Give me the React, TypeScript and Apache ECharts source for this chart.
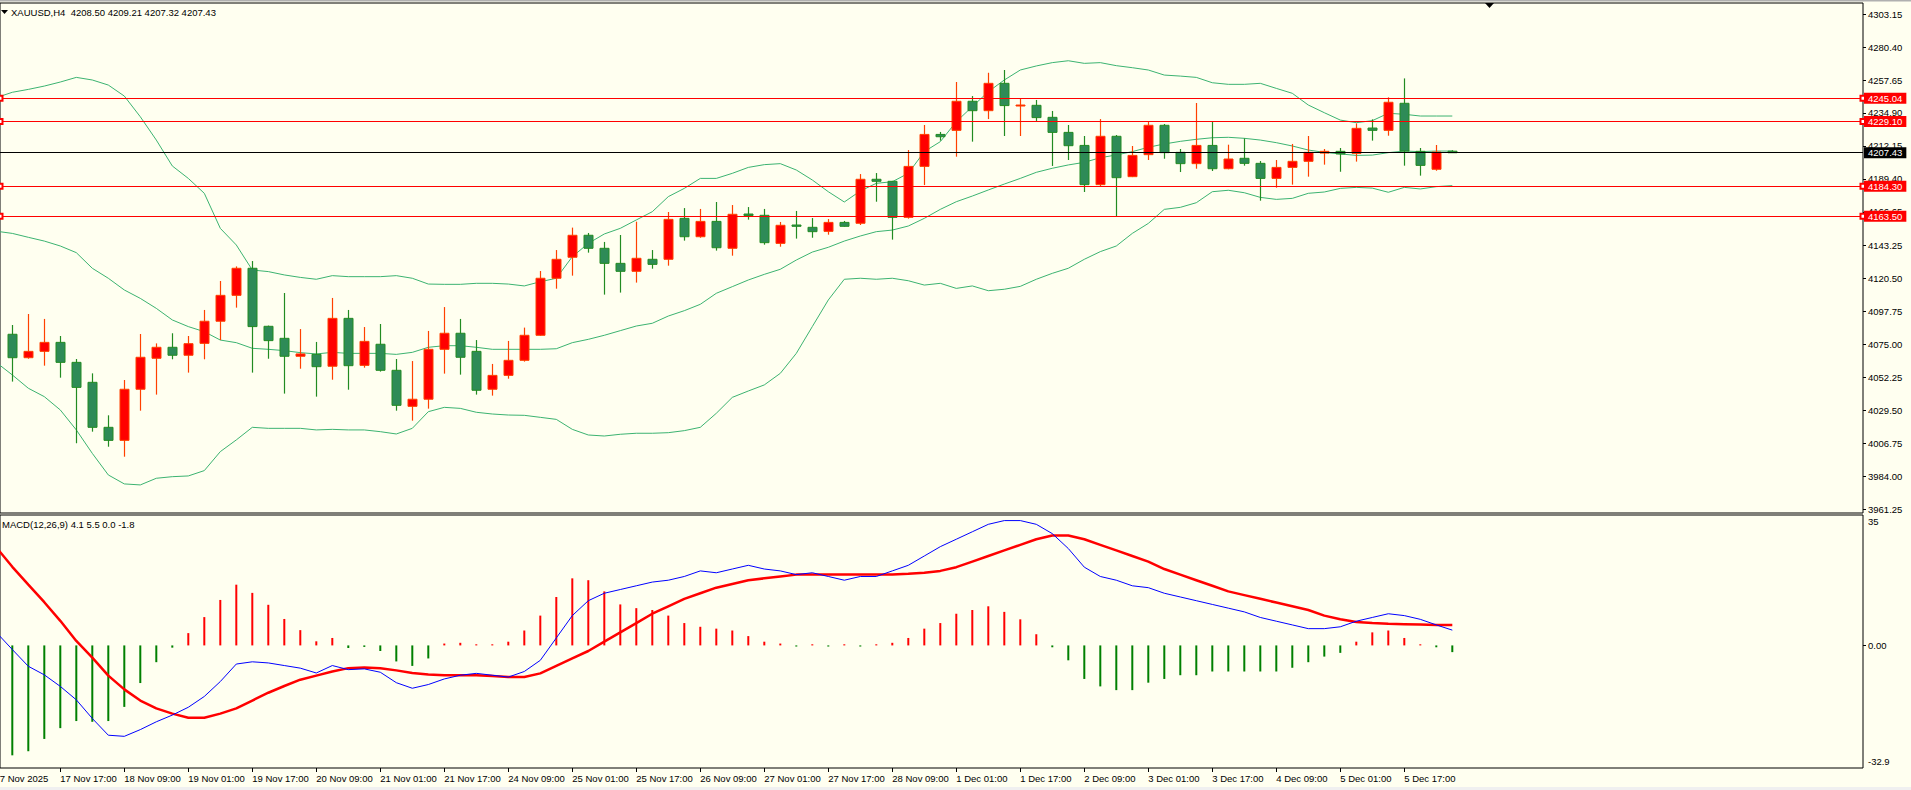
import React, { useEffect, useRef } from "react";
import * as echarts from "echarts";

// ---------- bar times (H4) ----------
const DAYS = ["17 Nov", "18 Nov", "19 Nov", "20 Nov", "21 Nov", "24 Nov", "25 Nov", "26 Nov", "27 Nov", "28 Nov", "1 Dec", "2 Dec", "3 Dec", "4 Dec", "5 Dec", "8 Dec"];
const HOURS = ["01:00", "05:00", "09:00", "13:00", "17:00", "21:00"];
const FIRST_LABEL = "17 Nov 2025";
// bar index -1 = 17 Nov 01:00 (just off the left edge), bar 0 = 17 Nov 05:00 ... bar 90 = 8 Dec 05:00
const timeLabelBars = [3, 7, 11, 15, 19, 23, 27, 31, 35, 39, 43, 47, 51, 55, 59, 63, 67, 71, 75, 79, 83, 87];

// ---------- candles (bar 0 ... bar 90) ----------
const opens = [
  4082.0, 4065.8, 4070.2, 4076.4, 4062.6, 4048.8, 4017.7, 4008.7, 4044.0, 4065.4,
  4073.0, 4067.5, 4075.7, 4091.0, 4108.9, 4127.6, 4087.5, 4079.2, 4066.8, 4068.1,
  4059.9, 4093.0, 4060.5, 4075.1, 4057.1, 4032.2, 4037.1, 4071.6, 4082.7, 4070.2,
  4044.0, 4053.6, 4064.0, 4081.3, 4120.7, 4135.2, 4150.4, 4141.4, 4131.0, 4125.5,
  4133.8, 4133.8, 4162.1, 4149.4, 4160.0, 4141.4, 4165.1, 4164.2, 4144.8, 4157.5,
  4155.9, 4153.1, 4159.3, 4158.7, 4189.1, 4187.7, 4162.8, 4198.0, 4220.1, 4222.9,
  4243.0, 4236.5, 4255.4, 4240.0, 4240.2, 4231.9, 4221.5, 4212.5, 4185.4, 4218.8,
  4190.9, 4206.1, 4226.4, 4207.7, 4199.9, 4212.5, 4196.4, 4203.6, 4200.1, 4189.7,
  4197.3, 4201.5, 4207.2, 4208.4, 4207.0, 4224.5, 4222.9, 4241.6, 4208.4, 4196.0,
  4208.5,
];
const highs = [
  4088.4, 4096.0, 4092.6, 4080.8, 4064.9, 4055.0, 4026.0, 4050.4, 4082.2, 4075.7,
  4082.7, 4080.8, 4098.8, 4118.8, 4128.9, 4132.6, 4088.0, 4110.5, 4085.6, 4076.7,
  4107.1, 4098.8, 4087.0, 4089.1, 4064.9, 4063.5, 4084.3, 4100.8, 4092.6, 4078.0,
  4061.5, 4077.4, 4086.6, 4125.7, 4140.2, 4155.7, 4152.0, 4145.8, 4150.6, 4159.8,
  4140.2, 4166.5, 4169.2, 4168.6, 4173.4, 4171.3, 4169.9, 4168.6, 4159.6, 4167.2,
  4162.3, 4161.6, 4160.3, 4192.7, 4193.4, 4188.0, 4209.3, 4226.6, 4221.8, 4256.3,
  4246.6, 4262.7, 4264.6, 4244.6, 4243.9, 4236.3, 4226.6, 4219.0, 4230.7, 4219.7,
  4212.1, 4228.9, 4227.3, 4210.0, 4241.8, 4228.9, 4213.0, 4217.4, 4201.7, 4202.4,
  4213.5, 4219.0, 4210.0, 4210.7, 4227.7, 4230.5, 4245.7, 4258.8, 4210.7, 4212.8,
  4209.21,
];
const lows = [
  4049.3, 4065.1, 4060.3, 4052.0, 4006.7, 4014.7, 4004.3, 3997.4, 4029.2, 4040.3,
  4064.7, 4055.5, 4064.7, 4078.0, 4100.4, 4055.5, 4065.1, 4041.0, 4058.2, 4038.9,
  4050.6, 4043.7, 4058.9, 4056.2, 4029.2, 4022.3, 4030.6, 4054.8, 4054.1, 4040.3,
  4039.6, 4051.3, 4063.1, 4081.0, 4113.5, 4122.5, 4138.4, 4109.4, 4110.8, 4117.7,
  4127.3, 4129.4, 4146.7, 4148.7, 4139.8, 4136.3, 4161.2, 4143.9, 4142.5, 4148.1,
  4148.7, 4150.8, 4156.4, 4157.5, 4173.6, 4147.4, 4161.9, 4185.1, 4215.8, 4204.7,
  4215.1, 4230.7, 4219.0, 4219.0, 4229.4, 4198.3, 4202.4, 4180.3, 4184.4, 4163.7,
  4190.6, 4202.4, 4203.3, 4194.1, 4196.4, 4194.8, 4196.0, 4198.5, 4174.3, 4183.3,
  4185.4, 4190.9, 4199.2, 4194.3, 4201.3, 4215.8, 4219.2, 4198.5, 4191.6, 4195.0,
  4207.32,
];
const closes = [
  4065.8, 4070.2, 4076.4, 4062.6, 4045.3, 4017.7, 4008.7, 4044.0, 4066.1, 4073.0,
  4067.5, 4075.5, 4091.0, 4108.9, 4127.6, 4087.3, 4077.6, 4066.8, 4068.4, 4059.6,
  4093.0, 4060.3, 4077.1, 4057.1, 4032.9, 4037.1, 4071.6, 4082.7, 4066.1, 4043.3,
  4053.6, 4064.0, 4081.3, 4120.7, 4133.8, 4150.4, 4141.4, 4131.0, 4125.5, 4134.5,
  4130.3, 4161.4, 4149.4, 4160.0, 4141.8, 4164.9, 4164.0, 4145.3, 4157.3, 4156.6,
  4152.9, 4159.3, 4156.6, 4189.1, 4187.7, 4162.8, 4198.0, 4220.1, 4218.5, 4243.0,
  4236.5, 4255.4, 4240.0, 4240.4, 4231.7, 4221.5, 4212.3, 4185.4, 4218.8, 4190.2,
  4205.6, 4226.4, 4207.5, 4199.9, 4212.5, 4196.4, 4203.1, 4200.1, 4189.7, 4197.3,
  4201.5, 4207.7, 4208.4, 4206.6, 4224.3, 4222.9, 4242.3, 4208.6, 4198.7, 4207.9,
  4207.43,
];

// ---------- Bollinger bands (bar -1 ... bar 90) ----------
const bbUpper = [
  4245.5,
  4249.2, 4251.2, 4253.5, 4256.3, 4259.5, 4257.7, 4254.2, 4246.6, 4232.3, 4216.2,
  4198.3, 4189.7, 4179.4, 4155.2, 4143.7, 4126.4, 4125.3, 4123.0, 4121.3, 4120.0,
  4122.5, 4121.8, 4121.8, 4121.8, 4122.5, 4120.7, 4116.7, 4116.5, 4116.5, 4117.2,
  4117.2, 4116.7, 4115.4, 4118.3, 4120.7, 4135.6, 4144.8, 4151.3, 4155.2, 4161.0,
  4166.7, 4177.1, 4182.8, 4189.7, 4189.7, 4193.2, 4197.3, 4199.2, 4199.9, 4195.5,
  4188.6, 4180.5, 4173.4, 4181.0, 4186.3, 4187.4, 4193.2, 4208.2, 4215.1, 4228.9,
  4239.3, 4249.6, 4257.7, 4264.6, 4267.4, 4269.7, 4271.0, 4269.2, 4269.7, 4267.6,
  4266.2, 4264.6, 4261.1, 4260.4, 4259.5, 4255.8, 4254.7, 4254.7, 4255.4, 4251.9,
  4248.5, 4240.4, 4235.1, 4230.0, 4228.2, 4229.6, 4234.7, 4234.0, 4232.8, 4232.8,
  4232.8,
];
const bbMiddle = [
  4153.2,
  4151.7, 4149.0, 4146.4, 4143.0, 4138.4, 4127.6, 4120.7, 4112.6, 4106.8, 4099.9,
  4091.9, 4087.3, 4083.8, 4078.0, 4076.2, 4072.3, 4071.6, 4070.7, 4069.3, 4068.4,
  4069.5, 4068.8, 4068.8, 4068.8, 4068.1, 4069.5, 4073.0, 4074.1, 4074.1, 4073.0,
  4071.6, 4071.6, 4071.6, 4071.6, 4072.0, 4076.2, 4078.5, 4081.3, 4084.5, 4087.7,
  4089.6, 4094.6, 4098.3, 4102.7, 4110.3, 4114.9, 4119.5, 4123.4, 4126.9, 4133.3,
  4138.8, 4142.1, 4146.4, 4149.9, 4152.9, 4154.0, 4156.8, 4162.1, 4168.3, 4173.6,
  4177.5, 4181.7, 4185.8, 4189.7, 4193.9, 4196.7, 4199.0, 4200.8, 4204.0, 4205.9,
  4208.2, 4211.2, 4213.5, 4215.3, 4216.7, 4217.8, 4218.1, 4217.4, 4216.2, 4214.4,
  4212.1, 4209.3, 4207.7, 4206.6, 4205.6, 4205.8, 4207.5, 4208.6, 4208.2, 4208.6,
  4208.6,
];
const bbLower = [
  4062.5,
  4053.9, 4044.7, 4038.9, 4029.7, 4015.9, 3999.7, 3984.8, 3978.6, 3977.9, 3982.5,
  3983.6, 3984.1, 3987.8, 4000.9, 4009.0, 4017.7, 4017.0, 4017.0, 4017.0, 4015.9,
  4016.3, 4015.9, 4015.9, 4014.7, 4013.1, 4017.0, 4028.5, 4031.5, 4030.8, 4028.1,
  4026.9, 4026.2, 4026.0, 4024.6, 4023.2, 4016.3, 4012.4, 4011.7, 4012.9, 4013.6,
  4013.6, 4014.0, 4015.4, 4017.7, 4027.4, 4038.4, 4042.8, 4047.0, 4055.0, 4068.8,
  4087.3, 4105.7, 4120.0, 4120.7, 4120.0, 4120.7, 4119.0, 4116.0, 4117.2, 4113.7,
  4115.4, 4112.1, 4113.1, 4115.1, 4120.0, 4124.1, 4127.6, 4133.8, 4139.1, 4143.0,
  4151.7, 4158.6, 4168.3, 4169.7, 4172.9, 4180.5, 4181.5, 4179.8, 4176.6, 4175.2,
  4175.9, 4179.4, 4180.3, 4182.8, 4183.5, 4183.0, 4180.1, 4183.5, 4182.4, 4184.0,
  4184.7,
];

// ---------- MACD(12,26,9) (bar -1 ... bar 90) ----------
const macdLine = [
  3.5,
  -1.1, -5.6, -7.9, -11.0, -14.6, -19.6, -24.1, -24.4, -22.6, -20.5,
  -18.7, -16.6, -13.7, -9.7, -5.0, -4.4, -4.7, -5.4, -6.1, -7.4,
  -5.4, -6.5, -6.3, -7.2, -10.0, -11.5, -10.5, -9.0, -8.0, -7.5,
  -8.0, -8.5, -7.0, -4.0, 2.0, 8.0, 12.0, 14.0, 15.0, 16.0,
  17.0, 17.5, 18.5, 20.0, 19.5, 20.5, 21.5, 20.5, 20.0, 19.0,
  19.5, 18.5, 17.5, 18.5, 18.5, 20.0, 21.5, 24.0, 26.5, 28.5,
  30.5, 32.5, 33.5, 33.5, 32.5, 30.0, 26.0, 21.0, 18.5, 17.5,
  16.0, 15.5, 14.0, 13.0, 12.0, 11.0, 10.0, 9.0, 7.5, 6.5,
  5.5, 4.5, 4.5, 5.0, 6.5, 7.5, 8.5, 8.0, 7.0, 5.5,
  4.1,
];
const signalLine = [
  26.3,
  21.1, 16.3, 11.6, 6.6, 1.2, -3.3, -8.1, -11.8, -14.8, -16.9,
  -18.3, -19.4, -19.4, -18.3, -16.9, -14.8, -12.7, -10.9, -9.2, -8.1,
  -7.0, -6.1, -5.9, -6.1, -6.7, -7.4, -7.8, -8.0, -8.0, -8.0,
  -8.2, -8.5, -8.5, -7.5, -5.5, -3.5, -1.5, 1.0, 3.5, 6.0,
  8.5, 10.5, 12.5, 14.0, 15.5, 16.5, 17.5, 18.0, 18.5, 19.0,
  19.0, 19.0, 19.0, 19.0, 19.0, 19.0, 19.2, 19.5, 20.0, 21.0,
  22.5, 24.0, 25.5, 27.0, 28.5, 29.5, 29.5, 28.5, 27.0, 25.5,
  24.0, 22.5, 20.5, 19.0, 17.5, 16.0, 14.5, 13.5, 12.5, 11.5,
  10.5, 9.5, 8.0, 7.0, 6.3, 6.0, 5.8, 5.7, 5.6, 5.5,
  5.5,
];
// histogram (bar 0 ... bar 90)
const histogram = [
  -29.5, -28.4, -25.1, -22.2, -20.3, -20.5, -20.3, -16.5, -10.1, -4.5,
  -0.6, 3.3, 7.6, 12.2, 16.3, 14.1, 10.9, 7.1, 4.1, 1.1,
  2.0, -0.7, -0.4, -1.5, -4.3, -5.5, -3.5, 0.5, 0.7, 0.3,
  0.3, 1.0, 4.0, 8.0, 13.0, 18.0, 17.5, 14.5, 11.0, 10.0,
  9.5, 8.0, 6.0, 5.0, 4.5, 4.0, 2.5, 1.0, 0.5, -0.3,
  0.3, -0.3, 0.3, -0.3, 0.3, 0.7, 2.0, 4.5, 6.0, 8.5,
  9.5, 10.5, 9.0, 7.0, 3.0, -0.5, -4.0, -9.0, -11.0, -12.0,
  -12.0, -10.0, -9.0, -8.0, -8.0, -7.0, -7.0, -7.0, -7.0, -7.0,
  -6.0, -4.5, -3.0, -2.0, 1.0, 3.5, 4.0, 2.0, 0.3, -0.5,
  -1.8,
];

// ---------- levels & axis ticks ----------
const redLevels = [4245.04, 4229.1, 4184.3, 4163.5];
const currentPrice = 4207.43;
const priceTicks = [3961.25, 3984.0, 4006.75, 4029.5, 4052.25, 4075.0, 4097.75, 4120.5, 4143.25, 4166.65, 4189.4, 4212.15, 4234.9, 4257.65, 4280.4, 4303.15];
const macdTickValues = [-31.2, 0, 33.2];
const macdTickLabels = ["-32.9", "0.00", "35"];
const TITLE = "XAUUSD,H4  4208.50 4209.21 4207.32 4207.43";
const MACD_TITLE = "MACD(12,26,9) 4.1 5.5 0.0 -1.8";

const FONT = "Liberation Sans";
const BG = "#FFFFF0";
const BAND = "#3CB371";
const BULL_FILL = "#FF0000";
const BULL_EDGE = "#FF4000";
const BEAR_FILL = "#2E8B57";
const BEAR_EDGE = "#228B22";

// bar spacing: 16 px; plot area 0..1863 px, bar 0 centred 12.3 px from the left edge
const X_MIN = -12.3 / 16;
const X_MAX = X_MIN + 1863 / 16;

export default function App() {
  const ref = useRef<HTMLDivElement>(null);

  useEffect(() => {
    if (!ref.current) return;
    const chart = echarts.init(ref.current, null, { renderer: "svg" });

    const times: string[] = [];
    DAYS.forEach((d) => HOURS.forEach((h) => times.push(d + " " + h)));
    const timeOf = (bar: number) => times[bar + 1] ?? "";

    const candleData = opens.map((o, i) => [i, o, highs[i], lows[i], closes[i]]);
    const pairs = (arr: number[], start: number) => arr.map((v, i) => [i + start, v]);

    const option: any = {
      animation: false,
      backgroundColor: BG,
      textStyle: { fontFamily: FONT },
      grid: [
        { left: 0, top: 3, width: 1863, height: 510, show: true, borderColor: "#000", borderWidth: 1, backgroundColor: "transparent" },
        { left: 0, top: 515, width: 1863, height: 253, show: true, borderColor: "#000", borderWidth: 1, backgroundColor: "transparent" },
      ],
      xAxis: [
        { type: "value", gridIndex: 0, min: X_MIN, max: X_MAX, show: false, position: "bottom", axisLine: { show: false, onZero: false }, axisTick: { show: false }, axisLabel: { show: false }, splitLine: { show: false } },
        {
          type: "value", gridIndex: 1, min: X_MIN, max: X_MAX, position: "bottom",
          axisLine: { show: false, onZero: false }, splitLine: { show: false },
          axisTick: { show: true, inside: false, length: 4, lineStyle: { color: "#000", width: 1 }, customValues: timeLabelBars },
          axisLabel: {
            customValues: timeLabelBars,
            formatter: (v: number) => timeOf(Math.round(v)),
            align: "left", color: "#000", fontSize: 9.5, fontFamily: FONT, margin: 5,
          },
        },
      ],
      yAxis: [
        {
          type: "value", gridIndex: 0, position: "right", min: 3958.5, max: 4310.9, scale: true,
          axisLine: { show: false, onZero: false }, splitLine: { show: false },
          axisTick: { show: true, inside: false, length: 3, lineStyle: { color: "#000" }, customValues: priceTicks },
          axisLabel: { customValues: priceTicks, formatter: (v: number) => v.toFixed(2), color: "#000", fontSize: 9.5, fontFamily: FONT, margin: 5 },
        },
        {
          type: "value", gridIndex: 1, position: "right", min: -32.9, max: 35,
          axisLine: { show: false, onZero: false }, splitLine: { show: false },
          axisTick: { show: true, inside: false, length: 3, lineStyle: { color: "#000" }, customValues: [0] },
          axisLabel: {
            customValues: macdTickValues,
            formatter: (v: number) => macdTickLabels[macdTickValues.indexOf(v)] ?? "",
            color: "#000", fontSize: 9.5, fontFamily: FONT, margin: 5,
          },
        },
      ],
      series: [
        {
          name: "upper", type: "line", xAxisIndex: 0, yAxisIndex: 0, data: pairs(bbUpper, -1),
          symbol: "none", lineStyle: { color: BAND, width: 1 }, z: 2,
          markLine: {
            silent: true, symbol: ["emptyRect", "emptyRect"], symbolSize: 5,
            data: redLevels.map((v) => ({
              yAxis: v,
              lineStyle: { color: "#FF0000", width: 1.2, type: "solid" },
              itemStyle: { color: "#FF0000" },
              label: {
                show: true, position: "end", distance: 1, formatter: v.toFixed(2),
                color: "#fff", backgroundColor: "#FF0000", padding: [1, 4, 0, 4],
                fontSize: 9.5, fontFamily: FONT, lineHeight: 10,
              },
            })),
          },
        },
        {
          name: "middle", type: "line", xAxisIndex: 0, yAxisIndex: 0, data: pairs(bbMiddle, -1),
          symbol: "none", lineStyle: { color: BAND, width: 1 }, z: 2,
          markLine: {
            silent: true, symbol: ["none", "none"],
            data: [{
              yAxis: currentPrice,
              lineStyle: { color: "#000", width: 1.2, type: "solid" },
              label: {
                show: true, position: "end", distance: 1, formatter: currentPrice.toFixed(2),
                color: "#fff", backgroundColor: "#000", padding: [1, 4, 0, 4],
                fontSize: 9.5, fontFamily: FONT, lineHeight: 10,
              },
            }],
          },
        },
        {
          name: "lower", type: "line", xAxisIndex: 0, yAxisIndex: 0, data: pairs(bbLower, -1),
          symbol: "none", lineStyle: { color: BAND, width: 1 }, z: 2,
        },
        {
          name: "candles", type: "custom", xAxisIndex: 0, yAxisIndex: 0, data: candleData, clip: true, z: 3,
          encode: { x: 0, y: [1, 2, 3, 4] },
          renderItem: (params: any, api: any) => {
            const k = api.value(0);
            const o = api.value(1), h = api.value(2), l = api.value(3), c = api.value(4);
            const top = api.coord([k, Math.max(o, c)]);
            const bot = api.coord([k, Math.min(o, c)]);
            const hi = api.coord([k, h]);
            const lo = api.coord([k, l]);
            const bull = c > o;
            const x = Math.round(top[0]);
            const stroke = bull ? BULL_EDGE : BEAR_EDGE;
            const fill = bull ? BULL_FILL : BEAR_FILL;
            const bodyH = Math.max(1, bot[1] - top[1]);
            return {
              type: "group",
              children: [
                { type: "line", shape: { x1: x + 0.5, y1: hi[1], x2: x + 0.5, y2: lo[1] }, style: { stroke, lineWidth: 1.2 } },
                { type: "rect", shape: { x: x - 4, y: top[1], width: 9, height: bodyH }, style: { fill, stroke, lineWidth: 1 } },
              ],
            };
          },
        },
        {
          name: "hist", type: "bar", xAxisIndex: 1, yAxisIndex: 1, data: pairs(histogram, 0), barWidth: 2,
          itemStyle: { color: (p: any) => (p.value[1] >= 0 ? "#FF0000" : "#008000") },
        },
        {
          name: "signal", type: "line", xAxisIndex: 1, yAxisIndex: 1, data: pairs(signalLine, -1),
          symbol: "none", lineStyle: { color: "#FF0000", width: 2.5 }, z: 3,
        },
        {
          name: "macd", type: "line", xAxisIndex: 1, yAxisIndex: 1, data: pairs(macdLine, -1),
          symbol: "none", lineStyle: { color: "#0000FF", width: 1 }, z: 4,
        },
      ],
      graphic: [
        { type: "rect", x: 0, y: 0, shape: { x: 0, y: 0, width: 1911, height: 1.5 }, style: { fill: "#B0B0B0" }, silent: true },
        { type: "rect", x: 0, y: 787, shape: { x: 0, y: 0, width: 1911, height: 3 }, style: { fill: "#F0F0F0" }, silent: true },
        { type: "polygon", shape: { points: [[1, 10], [8, 10], [4.5, 14]] }, style: { fill: "#000" }, silent: true },
        { type: "polygon", shape: { points: [[1485, 3], [1494, 3], [1489.5, 8]] }, style: { fill: "#000" }, silent: true },
        { type: "text", x: 11, y: 7, style: { text: TITLE, fill: "#000", font: `9.5px "${FONT}"` }, silent: true },
        { type: "text", x: 2, y: 519, style: { text: MACD_TITLE, fill: "#000", font: `9.5px "${FONT}"` }, silent: true },
        { type: "text", x: -5.5, y: 773, style: { text: FIRST_LABEL, fill: "#000", font: `9.5px "${FONT}"` }, silent: true },
      ],
    };

    chart.setOption(option);
    return () => chart.dispose();
  }, []);

  return <div ref={ref} style={{ position: "fixed", left: 0, top: 0, width: 1911, height: 790 }} />;
}
